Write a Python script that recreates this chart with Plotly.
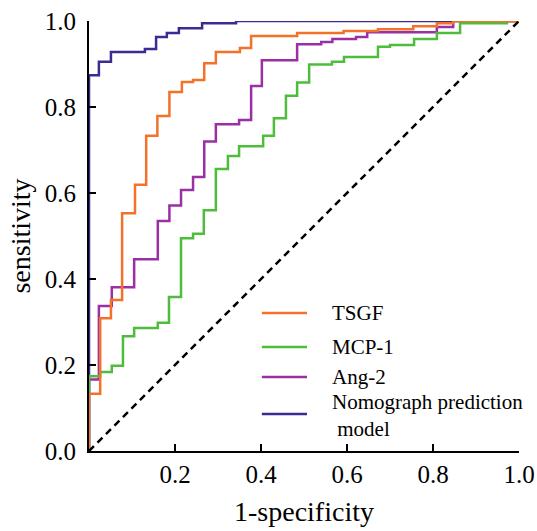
import plotly.graph_objects as go

# ROC step curves: (1-specificity, sensitivity) at the right end of each horizontal run
tsgf_x = [0, 0.026, 0.051, 0.077, 0.107, 0.133, 0.159, 0.187, 0.216, 0.242, 0.268, 0.295, 0.351, 0.377,
          0.484, 0.592, 0.672, 0.754, 0.809, 0.847, 1.0]
tsgf_y = [0, 0.133, 0.309, 0.351, 0.553, 0.619, 0.733, 0.779, 0.835, 0.858, 0.863, 0.902, 0.928, 0.937,
          0.965, 0.972, 0.977, 0.981, 0.988, 0.995, 1.0]

mcp_x = [0, 0.026, 0.053, 0.079, 0.105, 0.160, 0.186, 0.214, 0.242, 0.267, 0.295, 0.323, 0.349, 0.405,
         0.430, 0.458, 0.484, 0.512, 0.565, 0.593, 0.672, 0.700, 0.756, 0.809, 0.863, 0.972, 1.0]
mcp_y = [0, 0.174, 0.184, 0.198, 0.267, 0.286, 0.298, 0.358, 0.495, 0.505, 0.560, 0.656, 0.686, 0.709,
         0.733, 0.774, 0.826, 0.857, 0.899, 0.905, 0.916, 0.940, 0.944, 0.958, 0.972, 0.995, 1.0]

ang_x = [0, 0.023, 0.053, 0.105, 0.160, 0.187, 0.214, 0.242, 0.268, 0.295, 0.349, 0.377, 0.402, 0.484,
         0.540, 0.566, 0.621, 0.647, 0.809, 0.847, 1.0]
ang_y = [0, 0.166, 0.337, 0.381, 0.446, 0.535, 0.571, 0.607, 0.637, 0.720, 0.760, 0.770, 0.849, 0.909,
         0.946, 0.951, 0.958, 0.963, 0.974, 0.986, 1.0]

nomo_x = [0, 0.023, 0.051, 0.130, 0.156, 0.181, 0.209, 0.263, 0.342, 1.0]
nomo_y = [0, 0.874, 0.905, 0.928, 0.935, 0.963, 0.972, 0.983, 0.995, 1.0]

ref_x = [0, 1]
ref_y = [0, 1]

ticks = [0.0, 0.2, 0.4, 0.6, 0.8, 1.0]
tick_text = ["0.0", "0.2", "0.4", "0.6", "0.8", "1.0"]

names = ["TSGF", "MCP-1", "Ang-2", "Nomograph prediction<br>&nbsp;model"]
colors = ["#f2722a", "#4fbd3c", "#9b30a4", "#3e2b91"]

FONT = "Liberation Serif, Times New Roman, serif"
LW = 2.5

fig = go.Figure()

# drawn bottom to top as in the original
curves = [(nomo_x, nomo_y, 3), (ang_x, ang_y, 2), (mcp_x, mcp_y, 1), (tsgf_x, tsgf_y, 0)]
for xs, ys, i in curves:
    fig.add_trace(go.Scatter(x=xs, y=ys, mode="lines", line=dict(color=colors[i], width=LW, shape="vh"),
                             showlegend=False, hoverinfo="skip"))

fig.add_trace(go.Scatter(x=ref_x, y=ref_y, mode="lines",
                         line=dict(color="black", width=2.5, dash="7px,5px"),
                         showlegend=False, hoverinfo="skip"))

# hand made legend
legend_y = [0.321, 0.242, 0.172, 0.086]
for i, nm in enumerate(names):
    fig.add_shape(type="line", xref="x", yref="y", x0=0.402, x1=0.507, y0=legend_y[i], y1=legend_y[i],
                  line=dict(color=colors[i], width=LW))
    fig.add_annotation(x=0.56, y=legend_y[i] - (0.004 if i == 3 else 0), xref="x", yref="y", text=nm,
                       showarrow=False, xanchor="left", yanchor="middle", align="left",
                       font=dict(family=FONT, size=21, color="black"))

fig.update_xaxes(range=[0, 1], tickvals=ticks[1:], ticktext=tick_text[1:], showgrid=False, zeroline=False,
                 showline=True, linecolor="black", linewidth=2, ticks="inside", ticklen=7, tickwidth=2,
                 tickcolor="black", tickfont=dict(family=FONT, size=25, color="black"), automargin=False,
                 title=dict(text="1-specificity", font=dict(family=FONT, size=28, color="black"), standoff=14))
fig.update_yaxes(range=[0, 1], tickvals=ticks, ticktext=tick_text, showgrid=False, zeroline=False,
                 showline=True, linecolor="black", linewidth=2, ticks="inside", ticklen=7, tickwidth=2,
                 tickcolor="black", tickfont=dict(family=FONT, size=25, color="black"), ticklabelstandoff=6,
                 automargin=False,
                 title=dict(text="sensitivity", font=dict(family=FONT, size=28, color="black"), standoff=6))

fig.update_layout(width=537, height=531, margin=dict(l=89, r=18, t=21, b=80),
                  plot_bgcolor="white", paper_bgcolor="white")

# the page's default body margin would shift the figure by 8px
fig.write_html("out.html", config={"displayModeBar": False},
               post_script="document.body.style.margin='0px';")
